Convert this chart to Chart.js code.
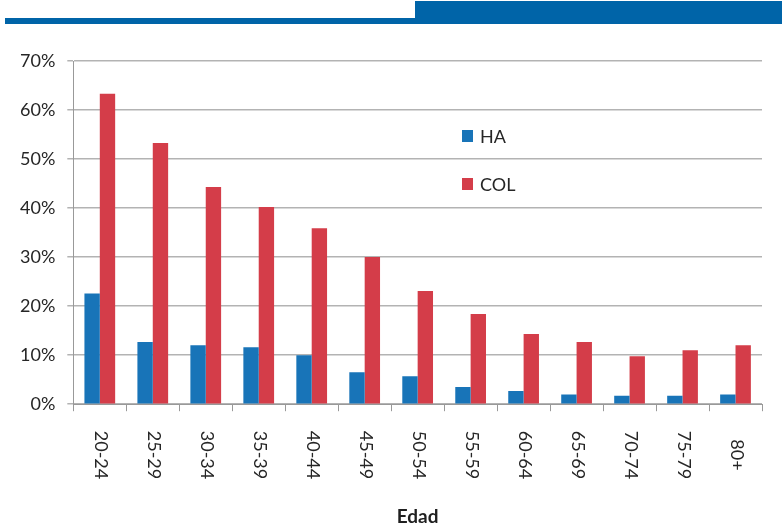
<!DOCTYPE html>
<html>
<head>
<meta charset="utf-8">
<script src="https://cdn.jsdelivr.net/npm/chart.js@4"></script>
<style>
  html, body { margin: 0; padding: 0; background: #fff; }
  #wrap { position: relative; width: 782px; height: 524px; }
  .bar1 { position: absolute; left: 5px; top: 18px; width: 412px; height: 6px; background: #0064a8; }
  .bar2 { position: absolute; left: 415px; top: 1px; width: 367px; height: 23px; background: #0064a8; }
</style>
</head>
<body>
<div id="wrap">
  <div class="bar1"></div>
  <div class="bar2"></div>
  <canvas id="edadChart" width="782" height="524"></canvas>
</div>
<script>
var categories = ['20-24', '25-29', '30-34', '35-39', '40-44', '45-49', '50-54', '55-59', '60-64', '65-69', '70-74', '75-79', '80+'];
var haValues = [22.6, 12.7, 12.0, 11.6, 10.0, 6.5, 5.7, 3.5, 2.7, 2.0, 1.7, 1.7, 2.0];
var colValues = [63.3, 53.3, 44.3, 40.2, 35.9, 30.0, 23.1, 18.4, 14.3, 12.7, 9.8, 11.0, 12.0];
var yTicks = [0, 10, 20, 30, 40, 50, 60, 70];

var labelFont = '18px Lato';

// legend inside the plot + x labels rotated clockwise
var customDraw = {
    id: 'customDraw',
    afterDraw: function(chart) {
        var ctx = chart.ctx;
        var xs = chart.scales.x;
        ctx.save();
        ctx.fillStyle = '#262626';
        ctx.font = labelFont;
        ctx.textAlign = 'center';
        ctx.textBaseline = 'middle';
        categories.forEach(function(c, i) {
            var x = xs.getPixelForTick(i);
            ctx.save();
            ctx.translate(x + 1, 455);
            ctx.rotate(Math.PI / 2);
            ctx.fillText(c, 0, 0);
            ctx.restore();
        });
        // legend
        var ys = [136, 184];
        chart.data.datasets.forEach(function(ds, i) {
            ctx.fillStyle = ds.backgroundColor;
            ctx.fillRect(462, ys[i] - 6, 11, 12);
            ctx.fillStyle = '#262626';
            ctx.textAlign = 'left';
            ctx.fillText(ds.label, 480, ys[i] + 1);
        });
        ctx.restore();
    }
};

var ctx = document.getElementById('edadChart').getContext('2d');
var edadChart = new Chart(ctx, {
    type: 'bar',
    data: {
        labels: categories,
        datasets: [{
            label: 'HA',
            data: haValues,
            backgroundColor: '#1874b8',
            categoryPercentage: 0.58,
            barPercentage: 1
        }, {
            label: 'COL',
            data: colValues,
            backgroundColor: '#d43d49',
            categoryPercentage: 0.58,
            barPercentage: 1
        }]
    },
    options: {
        responsive: false,
        animation: false,
        layout: {
            padding: { top: 61, right: 20, left: 8, bottom: 0 }
        },
        plugins: {
            legend: { display: false },
            tooltip: { enabled: false }
        },
        scales: {
            x: {
                grid: {
                    display: true,
                    drawOnChartArea: false,
                    drawTicks: true,
                    tickLength: 7,
                    color: '#999'
                },
                border: { color: '#999' },
                ticks: { display: false },
                title: {
                    display: true,
                    text: 'Edad',
                    color: '#1f1f1f',
                    font: { family: 'Lato', size: 19, weight: 'bold' },
                    padding: { top: 94, bottom: -4 }
                }
            },
            y: {
                min: 0,
                max: 70,
                afterBuildTicks: function(axis) {
                    axis.ticks = yTicks.map(function(v) { return { value: v }; });
                },
                grid: {
                    color: '#b3b3b3',
                    lineWidth: 1.5,
                    tickLength: 6
                },
                border: { color: '#999' },
                ticks: {
                    color: '#262626',
                    font: { family: 'Lato', size: 18 },
                    padding: 12,
                    callback: function(v) { return v + '%'; }
                }
            }
        }
    },
    plugins: [customDraw]
});
</script>
</body>
</html>
